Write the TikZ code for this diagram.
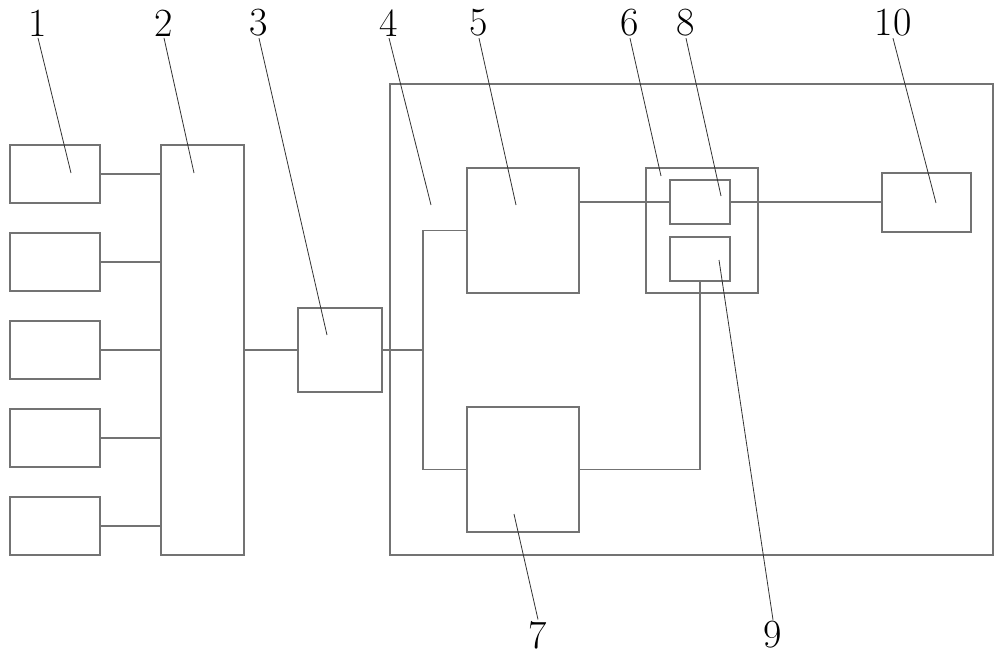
\documentclass[tikz,border=0pt]{standalone}
\usetikzlibrary{positioning}
\begin{document}
\begin{tikzpicture}[x=1pt, y=-1pt,
  blk/.style={draw=black!55, line width=1.3pt, inner sep=0pt},
  wire/.style={draw=black!55, line width=1.3pt},
  num/.style={font=\fontsize{40}{40}\selectfont, inner sep=1.5pt},
  lead/.style={draw=black!80, line width=0.8pt}]
\useasboundingbox (0,0) rectangle (1000,659);
% blocks
\node[blk, minimum width=83pt, minimum height=410pt] (hub) at (202.5,350) {};
\foreach \yy [count=\i] in {174,262,350,438,526} {
  \node[blk, minimum width=90pt, minimum height=58pt] (s\i) at (55,\yy) {};
  \draw[wire] (s\i.east) -- (s\i.east -| hub.west);
}
\node[blk, minimum width=84pt, minimum height=84pt] (conv) at (340,350) {};
\node[blk, minimum width=603pt, minimum height=471pt] (case) at (691.5,319.5) {};
\node[blk, minimum width=112pt, minimum height=125pt] (ctrl) at (523,230.5) {};
\node[blk, minimum width=112pt, minimum height=125pt] (pwr) at (523,469.5) {};
\node[blk, minimum width=112pt, minimum height=125pt] (modu) at (702,230.5) {};
\node[blk, minimum width=60pt, minimum height=44pt] (tx) at (700,202) {};
\node[blk, minimum width=60pt, minimum height=44pt] (rx) at (700,259) {};
\node[blk, minimum width=89pt, minimum height=59pt] (ant) at (926.5,202.5) {};
% wiring
\coordinate (jn) at (423,350);
\draw[wire] (hub.east) -- (conv.west);
\draw[wire] (conv.east) -- (jn);
\draw[wire] (ctrl.west) -| (jn) |- (pwr.west);
\draw[wire] (tx.west -| ctrl.east) -- (tx.west);
\draw[wire] (tx.east) -- (tx.east -| ant.west);
\draw[wire] (pwr.east) -| (rx.south);
% numbers
\node[num] (n1) at (38,23) {1};
\node[num] (n2) at (164,23) {2};
\node[num] (n3) at (259,23) {3};
\node[num] (n4) at (389,23) {4};
\node[num] (n5) at (479,23) {5};
\node[num] (n6) at (630,23) {6};
\node[num] (n8) at (686,23) {8};
\node[num] (n10) at (893,23) {10};
\node[num] (n7) at (538,635) {7};
\node[num] (n9) at (773,635) {9};
\coordinate (p1) at (71,173); \coordinate (p2) at (194,173);
\coordinate (p3) at (327,335); \coordinate (p4) at (431,205);
\coordinate (p5) at (516,205); \coordinate (p6) at (661,176);
\coordinate (p8) at (721,196); \coordinate (p10) at (936,203);
\coordinate (p7) at (514,514); \coordinate (p9) at (719,260);
\foreach \k in {1,2,3,4,5,6,8,10} \draw[lead] (n\k.south) -- (p\k);
\draw[lead] (n7.north) -- (p7);
\draw[lead] (n9.north) -- (p9);
\end{tikzpicture}
\end{document}
